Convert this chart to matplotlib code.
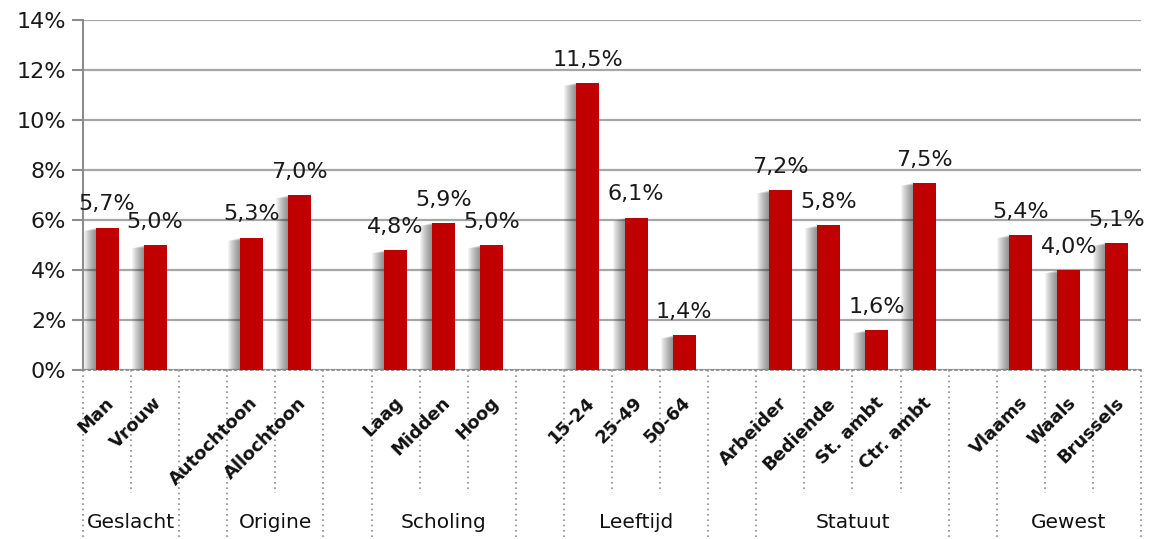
import matplotlib
matplotlib.use("Agg")
import matplotlib.pyplot as plt
import matplotlib.transforms as mtransforms

# data
groups = ["Geslacht", "Origine", "Scholing", "Leeftijd", "Statuut", "Gewest"]
group_sizes = [2, 2, 3, 3, 4, 3]
categories = ["Man", "Vrouw",
              "Autochtoon", "Allochtoon",
              "Laag", "Midden", "Hoog",
              "15-24", "25-49", "50-64",
              "Arbeider", "Bediende", "St. ambt", "Ctr. ambt",
              "Vlaams", "Waals", "Brussels"]
values = [5.7, 5.0,
          5.3, 7.0,
          4.8, 5.9, 5.0,
          11.5, 6.1, 1.4,
          7.2, 5.8, 1.6, 7.5,
          5.4, 4.0, 5.1]
value_labels = ["5,7%", "5,0%", "5,3%", "7,0%", "4,8%", "5,9%", "5,0%",
                "11,5%", "6,1%", "1,4%", "7,2%", "5,8%", "1,6%", "7,5%",
                "5,4%", "4,0%", "5,1%"]
yticks = [0, 2, 4, 6, 8, 10, 12, 14]

# slot positions: one empty slot between groups
pos = []
group_ranges = []
s = 0
for n in group_sizes:
    group_ranges.append((s, s + n - 1))
    pos += list(range(s, s + n))
    s += n + 1
nslots = s - 1

fig = plt.figure(figsize=(11.51, 5.39), dpi=100)
ax = fig.add_axes([83 / 1151, 169 / 539, (1141 - 83) / 1151, 350 / 539])

red = "#C00000"
grey = "#8C8C8C"
px = 1.0 / 48.1  # one pixel in data units

# soft shadow on the left of each bar
for k in range(1, 13):
    ax.bar([p - k * px for p in pos], [v - 0.01 * k for v in values], width=0.48,
           color="#303030", alpha=0.055, zorder=2, linewidth=0)
ax.bar(pos, values, width=0.48, color=red, zorder=3, linewidth=0)

for p, v, t in zip(pos, values, value_labels):
    ax.annotate(t, (p, v), xytext=(0, 17), textcoords="offset pixels",
                ha="center", va="baseline", fontsize=16, color="#1a1a1a", zorder=5)

ax.set_xlim(-0.5, nslots - 0.5)
ax.set_ylim(0, 14)
ax.set_yticks(yticks)
ax.set_yticklabels([f"{t}%" for t in yticks], fontsize=16, color="#1a1a1a")
ax.set_xticks([])
ax.yaxis.grid(True, color="#A6A6A6", linewidth=1.6, zorder=0)
ax.set_axisbelow(True)
ax.tick_params(axis="y", length=8, width=1.5, color=grey, pad=4)

for sp in ["top", "right"]:
    ax.spines[sp].set_visible(False)
ax.spines["left"].set_color(grey)
ax.spines["left"].set_linewidth(1.5)
ax.spines["bottom"].set_color(grey)
ax.spines["bottom"].set_linewidth(1.3)
ax.spines["bottom"].set_linestyle((0, (1, 2)))

trans = mtransforms.blended_transform_factory(ax.transData, ax.transAxes)
dot = dict(color=grey, linewidth=1.2, linestyle=(0, (1, 2.2)), clip_on=False,
           transform=trans)

for (a, b), g in zip(group_ranges, groups):
    ax.plot([a - 0.5, a - 0.5], [0, -0.49], **dot)
    ax.plot([b + 0.5, b + 0.5], [0, -0.49], **dot)
    for i in range(a, b):
        ax.plot([i + 0.5, i + 0.5], [0, -0.352], **dot)
    ax.text((a + b) / 2, -0.437, g, transform=trans, ha="center", va="center",
            fontsize=14.5, color="#111111")

for p, c in zip(pos, categories):
    ax.annotate(c, (p, 0), xycoords=trans, xytext=(4, -30),
                textcoords="offset pixels", ha="right", va="center",
                rotation=45, rotation_mode="anchor", fontsize=13,
                fontweight="bold", color="#111111")

fig.savefig("out.png", dpi=100)
